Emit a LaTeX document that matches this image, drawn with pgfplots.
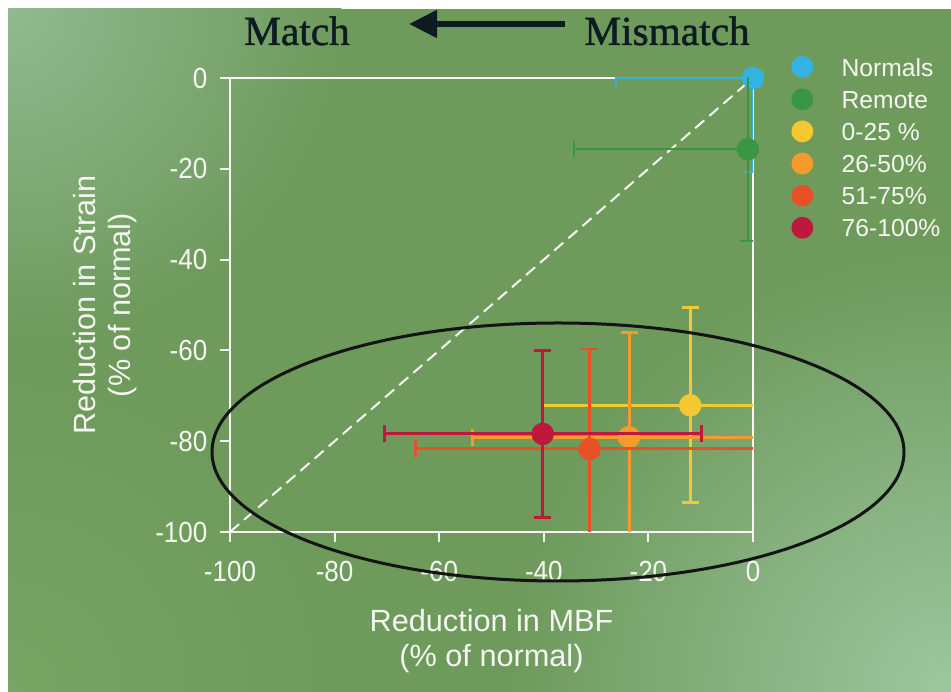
\documentclass[border=0pt]{standalone}
\usepackage{pgfplots}
\pgfplotsset{compat=1.18}
\usepackage{fontspec}
\setmainfont{Liberation Sans}
\newfontfamily\serif[FakeBold=1.2]{Liberation Serif}
\usetikzlibrary{arrows.meta}
\definecolor{bgmain}{RGB}{110,154,92}
\definecolor{bgTL}{RGB}{145,186,144}
\definecolor{bgBR}{RGB}{158,198,160}
\definecolor{bgBL}{RGB}{120,164,100}
\definecolor{cNorm}{RGB}{52,178,228}
\definecolor{cRem}{RGB}{58,150,68}
\definecolor{cA}{RGB}{245,200,50}
\definecolor{cB}{RGB}{245,155,45}
\definecolor{cC}{RGB}{232,80,40}
\definecolor{cD}{RGB}{190,25,60}
\definecolor{txt}{RGB}{246,246,242}
\definecolor{ttl}{RGB}{14,28,34}
\pgfplotsset{
  ebar/.style={only marks, mark=*, mark size=8.2pt, #1, mark options={fill=#1, draw=#1},
    error bars/x dir=both, error bars/x explicit, error bars/y dir=both, error bars/y explicit,
    error bars/error bar style={line width=2.2pt, #1},
    error bars/error mark options={rotate=90, mark size=6.4pt, line width=2.2pt, #1},
    legend image code/.code={\fill[#1, draw=none] (8.5pt,1.2pt) circle (8.2pt); \path[draw=none, fill=none] (0pt,0pt) rectangle (37pt,1pt);}},
  ebarthin/.style={ebar=#1,
    error bars/error bar style={line width=1.5pt, #1},
    error bars/error mark options={rotate=90, mark size=6pt, line width=1.5pt, #1}},
}
\begin{document}
\begin{tikzpicture}
\path[use as bounding box] (0,0) rectangle (713.25pt,519pt);
\fill[white] (0,0) rectangle (713.25pt,519pt);
\begin{scope}
\clip (6pt,0pt) rectangle (713.25pt,512.25pt);
\fill[bgmain] (6pt,0pt) rectangle (713.25pt,512.25pt);
\shade[inner color=bgBR, outer color=bgmain] (713.25pt,0pt) circle (330pt);
\shade[inner color=bgTL, outer color=bgmain] (6pt,512.25pt) circle (250pt);
\shade[inner color=bgBL, outer color=bgmain] (6pt,0pt) circle (240pt);
\end{scope}
\begin{axis}[
  at={(172.5pt,120pt)}, anchor=south west,
  x=3.9225pt, y=3.405pt,
  xmin=-100, xmax=0, ymin=-100, ymax=0,
  clip mode=individual,
  xtick={-100,-80,...,0}, ytick={-100,-80,...,0},
  tick align=outside, major tick length=7.5pt,
  xtick pos=bottom, ytick pos=left,
  axis line style={txt, line width=1.5pt},
  tick style={txt, line width=1.5pt},
  /pgf/number format/assume math mode=true,
  ticklabel style={font=\fontsize{19.5}{22}\selectfont, text=txt},
  xticklabel={\scalebox{1}[1.12]{\pgfmathprintnumber{\tick}}},
  yticklabel={\scalebox{1}[1.12]{\pgfmathprintnumber{\tick}}},
  xticklabel style={yshift=-10.5pt},
  yticklabel style={xshift=-6pt},
  xlabel={Reduction in MBF\\(\% of normal)},
  ylabel={Reduction in Strain\\(\% of normal)},
  label style={font=\fontsize{23}{26}\selectfont, text=txt, align=center},
  xlabel style={at={(axis description cs:0.5,-0.2368)}, anchor=center, yshift=-1pt},
  ylabel style={at={(axis description cs:-0.239,0.5)}, anchor=center},
  legend style={draw=none, fill=none, at={(axis description cs:1.0727,1.0485)}, anchor=north west,
    inner sep=0pt, outer sep=0pt, font=\fontsize{18.5}{21}\selectfont, text=txt,
    row sep=6.5pt, column sep=0pt, nodes={inner sep=1pt}},
  legend cell align=left,
]
\addplot[forget plot, no marks, draw=txt, line width=1.5pt, dash pattern=on 9pt off 5pt, sharp plot] coordinates {(-100,-100) (0,0)};
\addplot[ebarthin=cNorm] coordinates {(0,0) +- (26.2,20.8)};
\addplot[ebarthin=cRem] coordinates {(-1,-15.7) +- (33.2,20.3)};
\addplot[ebar=cA] coordinates {(-12,-72.1) +- (28.2,21.5)};
\addplot[ebar=cB] coordinates {(-23.7,-79.1) +- (30,23)};
\addplot[ebar=cC] coordinates {(-31.2,-81.7) +- (33.3,22)};
\addplot[ebar=cD] coordinates {(-40.2,-78.4) +- (30.3,18.4)};
\legend{Normals, Remote, 0-25 \%, 26-50\%, 51-75\%, 76-100\%}
\end{axis}
\draw[black!92, line width=2.25pt] (418.5pt,180pt) ellipse [x radius=259.5pt, y radius=96.75pt];
\node[anchor=base, text=ttl, font=\serif\fontsize{31}{34}\selectfont, inner sep=0pt] at (222.75pt,485.25pt) {Match};
\node[anchor=base, text=ttl, font=\serif\fontsize{31}{34}\selectfont, inner sep=0pt] at (500.25pt,485.25pt) {Mismatch};
\draw[ttl, line width=4.5pt, -{Triangle[length=21pt,width=20pt]}] (423.75pt,501pt) -- (306.75pt,501pt);
\end{tikzpicture}
\end{document}
